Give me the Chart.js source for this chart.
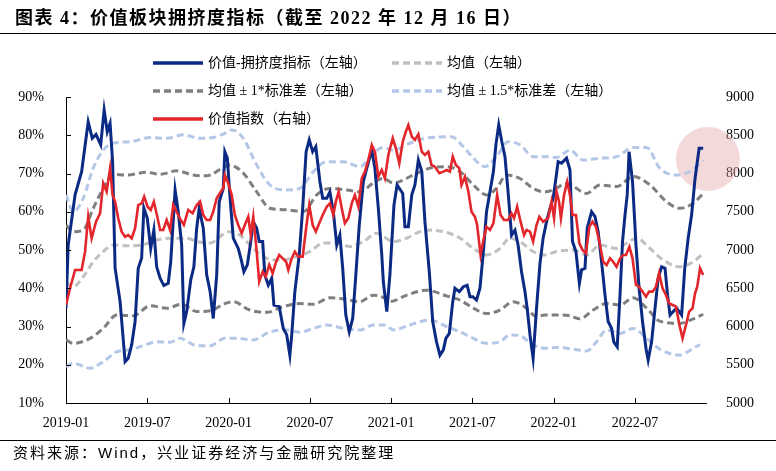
<!DOCTYPE html>
<html><head><meta charset="utf-8">
<script src="https://cdn.jsdelivr.net/npm/chart.js@4.4.0/dist/chart.umd.min.js"></script>
<style>
html,body{margin:0;padding:0;background:#fff;width:776px;height:471px;overflow:hidden;}
#wrap{position:relative;width:776px;height:471px;}
#title{position:absolute;left:15px;top:6px;font:bold 18px "Liberation Serif","Noto Sans CJK SC";letter-spacing:1.5px;color:#000;white-space:nowrap;line-height:24px}
.rule{position:absolute;left:0;width:776px;height:1px;background:#000}
#source{position:absolute;left:13px;top:443px;font:15px "Liberation Sans","Noto Sans CJK SC";color:#000;white-space:nowrap;line-height:20px;letter-spacing:2px}
canvas{position:absolute;left:0;top:0}
</style></head>
<body><div id="wrap">
<canvas id="c" width="776" height="471" style="width:776px;height:471px"></canvas>
<div id="title">图表 4：价值板块拥挤度指标（截至 2022 年 12 月 16 日）</div>
<div class="rule" style="top:33px"></div>
<div class="rule" style="top:440px"></div>
<div id="source">资料来源：Wind，兴业证券经济与金融研究院整理</div>
</div>
<script>
// x values are week numbers counted from the first week of 2019
const tickWeeks = [0, 26, 52, 78, 104, 130, 156, 182];
const tickLabels = ['2019-01','2019-07','2020-01','2020-07','2021-01','2021-07','2022-01','2022-07'];

// 价值-拥挤度指标 (%, left axis)
const crowding = [[0,34.8],[0.7,51.3],[2.9,64.4],[5.0,70.5],[7.1,83.5],[8.4,79.2],[9.6,80.2],[11.1,77.5],[12.2,86.6],[13.2,80.9],[14.1,83.1],[14.9,73.1],[15.7,45.3],[17.3,36.5],[18.9,20.8],[19.9,21.7],[21.0,25.2],[22.1,31.3],[23.1,45.2],[24.2,47.9],[24.9,61.0],[26.0,58.3],[27.1,50.4],[28.1,55.2],[29.0,45.6],[30.1,42.6],[31.3,40.7],[32.7,41.3],[33.5,46.9],[34.9,65.7],[35.9,60.0],[37.0,51.3],[37.7,30.8],[38.6,33.9],[39.9,42.2],[40.9,45.6],[41.8,55.7],[42.6,60.9],[43.9,55.7],[45.0,43.5],[46.1,39.1],[47.1,32.1],[48.2,43.5],[49.0,62.6],[50.3,66.1],[50.8,75.7],[51.6,74.0],[52.4,64.4],[53.5,53.1],[55.1,50.4],[56.2,46.9],[56.9,44.3],[58.0,46.1],[59.1,52.2],[59.9,57.4],[61.0,55.7],[61.8,52.2],[62.9,52.2],[63.6,43.5],[64.7,40.8],[65.8,42.6],[66.5,35.6],[68.2,35.2],[69.5,29.5],[70.6,27.8],[71.6,22.5],[72.2,27.8],[73.2,39.1],[74.6,48.7],[75.7,60.9],[76.8,75.7],[77.8,78.8],[78.9,75.7],[79.9,77.0],[81.2,67.9],[82.1,63.5],[83.4,63.5],[84.4,65.2],[85.5,60.0],[86.6,51.3],[87.6,53.9],[88.5,45.2],[89.5,33.0],[90.6,28.6],[91.7,32.1],[92.7,43.5],[93.8,56.5],[95.1,67.9],[96.2,71.4],[97.8,76.1],[98.8,71.4],[99.9,60.9],[101.0,48.7],[101.5,41.7],[102.6,33.9],[103.6,43.5],[104.9,61.8],[105.9,67.0],[107.7,64.8],[108.4,56.1],[109.5,56.1],[110.6,64.4],[111.6,67.0],[112.7,73.5],[113.8,70.5],[114.8,57.4],[116.2,44.3],[117.3,31.3],[118.5,26.0],[119.6,22.5],[120.7,23.9],[121.5,26.9],[122.6,28.2],[123.7,36.5],[124.4,40.0],[125.8,39.1],[127.1,40.4],[128.3,40.8],[129.2,37.8],[130.1,37.8],[131.3,36.9],[132.4,40.0],[133.5,49.6],[134.5,60.0],[135.6,65.2],[136.7,70.5],[137.5,77.5],[138.4,82.7],[139.4,78.3],[140.4,74.4],[141.4,65.2],[142.5,53.9],[143.6,55.2],[144.6,51.3],[145.7,44.3],[146.8,39.1],[147.5,34.8],[148.4,27.8],[149.4,21.7],[150.5,34.8],[151.6,46.5],[152.6,53.1],[153.7,57.4],[154.8,60.9],[155.8,63.5],[156.7,68.7],[157.4,73.1],[158.5,72.7],[160.1,74.0],[161.2,70.9],[162.0,52.2],[163.1,49.6],[164.2,41.3],[164.9,44.8],[166.0,45.2],[166.7,55.7],[168.1,60.0],[169.2,58.7],[170.2,54.8],[171.3,46.9],[172.4,38.2],[173.4,31.3],[174.5,29.5],[175.2,26.0],[176.3,24.7],[177.2,38.2],[178.0,52.2],[178.8,59.2],[179.5,64.4],[180.1,75.7],[181.2,67.9],[182.3,51.3],[183.3,40.0],[184.4,31.3],[185.5,24.3],[186.2,21.2],[187.3,26.0],[188.4,34.8],[189.4,42.6],[190.5,45.6],[191.6,45.2],[192.4,38.2],[193.2,33.0],[194.2,33.9],[195.3,34.8],[196.9,33.0],[197.9,45.2],[199.0,53.1],[200.1,59.2],[201.2,68.7],[202.5,76.6],[203.8,76.6]];

// 价值指数 (right axis)
const valueIndex = [[0,6281],[1.3,6500],[2.9,6739],[5.0,6739],[6.1,6978],[7.1,7435],[8.2,7153],[9.6,7370],[10.9,7480],[11.9,7872],[13.0,7762],[14.1,8068],[14.9,7719],[15.7,7632],[16.7,7415],[17.8,7240],[18.9,7174],[19.9,7196],[21.0,7153],[22.1,7284],[23.1,7588],[24.2,7610],[25.0,7697],[26.1,7566],[27.1,7523],[28.1,7632],[29.2,7435],[30.1,7262],[31.1,7262],[32.2,7392],[33.3,7262],[34.3,7588],[35.6,7480],[36.7,7392],[37.7,7327],[39.1,7523],[40.5,7480],[41.8,7588],[42.9,7632],[43.9,7458],[45.0,7392],[46.1,7392],[47.1,7501],[48.2,7676],[49.2,7741],[50.3,7807],[50.8,7980],[51.9,7872],[53.0,7719],[54.0,7458],[55.1,7327],[56.2,7218],[57.2,7327],[58.3,7435],[59.1,7196],[59.9,7435],[60.8,7066],[61.8,6586],[62.9,6717],[63.9,6651],[65.0,6804],[66.1,6695],[67.2,6847],[68.2,6935],[69.3,6891],[70.4,6847],[71.1,6739],[72.2,6891],[73.2,6978],[74.3,6913],[75.7,6913],[76.8,7284],[77.8,7588],[78.9,7327],[79.9,7240],[81.0,7349],[82.1,7458],[83.4,7566],[84.4,7610],[85.5,7458],[86.3,7632],[87.2,7762],[88.2,7545],[89.2,7349],[90.3,7415],[91.4,7610],[92.4,7719],[93.5,7566],[94.6,7937],[95.6,8024],[96.7,8177],[97.8,8373],[98.8,8285],[99.9,7958],[101.0,8046],[102.0,7937],[103.1,8242],[104.5,8460],[105.5,8329],[106.6,8133],[107.7,8416],[108.7,8547],[109.5,8634],[110.6,8481],[111.6,8438],[112.7,8512],[113.8,8285],[114.8,8242],[115.9,8285],[116.9,8111],[118.0,8089],[119.4,8003],[120.7,8024],[121.7,8046],[122.8,8024],[123.7,8220],[124.7,8111],[125.8,8068],[126.5,7850],[127.6,7958],[128.7,7762],[129.7,7501],[130.8,7435],[131.5,7327],[132.6,6935],[133.4,7109],[134.5,7305],[135.6,7262],[136.7,7349],[137.9,7719],[139.0,7458],[140.1,7392],[141.4,7392],[142.5,7480],[143.3,7415],[144.3,7566],[145.4,7370],[146.5,7196],[147.3,7262],[148.4,7240],[149.4,7109],[150.5,7327],[151.4,7435],[152.6,7370],[154.2,7415],[155.3,7632],[156.1,7415],[156.9,7762],[157.7,7632],[158.3,7415],[159.3,7719],[160.3,7893],[161.2,7719],[162.0,7458],[163.1,7458],[164.2,7088],[165.2,7000],[166.3,6957],[167.4,7305],[168.4,7370],[169.5,7305],[170.6,7109],[171.8,6847],[172.9,6804],[174.0,6891],[175.0,6847],[176.1,6782],[177.2,6891],[178.2,6935],[179.1,6935],[180.2,7043],[181.2,6891],[182.3,6543],[183.3,6521],[184.4,6456],[185.5,6390],[186.5,6456],[187.6,6456],[188.7,6521],[189.7,6695],[190.8,6500],[191.9,6412],[192.9,6304],[194.0,6281],[195.1,6259],[196.2,6020],[197.2,5846],[198.3,6020],[199.3,6194],[200.4,6238],[201.2,6434],[201.9,6521],[202.8,6761],[203.8,6674]];

// 均值 (%)
const meanLine = [[0,41.7],[2.3,40.4],[5.5,43.0],[8.7,46.9],[11.9,49.6],[15.1,51.3],[19.4,51.1],[24.2,51.3],[29.0,52.6],[33.8,53.1],[38.6,53.1],[41.8,52.2],[46.1,51.8],[49.2,53.5],[51.9,54.8],[55.6,53.9],[59.9,50.4],[64.2,47.8],[68.4,47.4],[73.8,48.2],[78.0,49.6],[82.3,51.8],[86.6,51.8],[90.8,50.9],[95.1,52.2],[99.4,54.4],[104.7,52.2],[109.0,53.1],[113.2,54.8],[116.4,55.2],[121.7,54.6],[126.0,53.1],[130.3,50.4],[134.5,48.7],[138.8,50.4],[142.0,53.1],[145.2,52.2],[149.4,49.6],[153.2,48.7],[156.9,49.6],[162.2,50.0],[166.5,48.7],[170.8,51.3],[176.1,50.4],[179.3,51.8],[182.5,53.1],[186.8,50.4],[191.0,47.4],[196.3,45.6],[200.6,46.9],[203.8,49.1]];
// 均值 ± 1*标准差 (%)
const plusOneStd = [[0,56.5],[2.3,54.8],[5.5,55.2],[8.7,60.9],[11.9,66.1],[15.1,69.8],[19.4,69.6],[25.8,70.3],[30.1,69.8],[35.4,70.7],[40.7,69.6],[45.0,69.4],[50.8,71.8],[52.4,72.2],[56.7,70.1],[61.0,65.2],[65.2,60.9],[70.6,60.5],[75.9,60.0],[80.2,64.4],[84.4,66.1],[89.8,65.7],[94.0,65.2],[98.3,67.5],[101.5,68.7],[104.7,67.5],[111.1,69.6],[116.4,71.4],[121.7,71.8],[126.0,70.5],[130.3,67.0],[134.5,64.4],[137.7,66.1],[140.9,69.6],[145.2,68.7],[149.4,66.1],[153.2,65.2],[155.8,65.7],[160.1,67.4],[166.5,64.8],[170.8,67.0],[176.1,66.6],[181.4,69.2],[186.8,67.0],[192.1,62.6],[196.3,60.9],[200.6,62.2],[203.8,64.8]];
const minusOneStd = [[0,26.5],[2.3,25.6],[7.7,26.9],[11.9,29.5],[16.2,33.0],[21.5,32.8],[26.9,35.4],[32.2,34.8],[37.0,35.8],[41.8,33.9],[46.1,34.1],[50.8,36.0],[53.5,36.5],[58.8,34.3],[64.2,33.7],[69.5,35.2],[74.8,36.0],[79.1,35.8],[84.4,37.5],[88.7,37.2],[94.0,36.5],[98.3,38.2],[102.0,37.4],[103.6,36.5],[109.0,38.2],[115.3,39.5],[121.7,38.0],[126.0,36.9],[130.3,34.8],[134.5,33.4],[138.8,34.3],[143.0,36.5],[147.3,34.8],[150.5,32.6],[153.2,33.0],[156.9,33.0],[161.2,32.8],[164.4,32.0],[168.6,34.3],[172.9,36.0],[177.2,35.6],[181.4,37.5],[185.7,34.8],[189.9,31.4],[196.3,30.8],[200.6,32.0],[203.8,33.2]];
// 均值 ± 1.5*标准差 (%)
const plusOneHalfStd = [[0,64.4],[2.3,60.0],[5.5,63.5],[8.7,71.4],[11.9,76.1],[15.1,77.9],[20.5,78.3],[26.9,79.4],[32.2,79.2],[37.5,80.1],[42.9,79.2],[47.1,79.4],[50.8,80.5],[53.0,81.4],[56.7,79.2],[61.0,72.2],[65.2,67.0],[70.6,65.7],[74.8,66.1],[79.1,70.5],[83.4,73.1],[88.7,73.1],[94.0,71.8],[98.3,75.3],[101.5,76.8],[104.7,76.1],[110.0,77.9],[116.4,79.4],[123.3,79.6],[127.1,77.0],[130.3,74.0],[134.0,71.8],[137.7,74.4],[141.4,78.3],[145.2,77.5],[149.4,74.4],[153.2,74.4],[156.9,74.2],[161.2,76.1],[165.4,73.5],[170.8,74.0],[176.1,74.4],[181.4,76.8],[185.7,76.8],[189.9,71.4],[195.3,69.6],[199.5,70.5],[203.8,73.5]];
const minusOneHalfStd = [[0,19.5],[2.3,20.4],[7.7,19.1],[11.9,20.8],[16.2,23.4],[20.5,23.9],[24.7,25.0],[29.0,26.0],[33.3,25.9],[36.4,26.9],[41.8,25.0],[46.1,25.0],[50.8,26.9],[54.6,26.9],[59.9,26.5],[65.2,28.6],[70.6,29.1],[74.8,28.5],[79.1,29.5],[83.4,30.4],[88.7,29.5],[94.0,29.1],[98.3,30.4],[102.0,30.4],[104.7,29.1],[110.0,30.4],[116.4,31.7],[121.7,30.0],[126.0,28.6],[130.3,26.9],[134.5,25.6],[138.8,26.0],[142.0,27.8],[145.2,27.6],[149.4,25.2],[153.2,24.3],[156.9,24.5],[162.2,24.1],[166.5,23.6],[169.7,26.0],[172.9,29.1],[177.2,28.2],[181.4,29.5],[185.7,26.9],[189.9,24.1],[196.3,22.5],[200.6,24.3],[202.8,25.3]];

// highlighted latest reading (week, %)
const highlightPoint = [205.3, 73.8];

const toXY = arr => arr.map(([x, y]) => ({x, y}));
const band = (label, data, color) => ({label, data: toXY(data), yAxisID: 'y', borderColor: color, borderWidth: 3,
  borderDash: [7, 4], pointRadius: 0, tension: 0.4, cubicInterpolationMode: 'monotone', fill: false});

const datasets = [
  {label: '价值指数（右轴）', data: toXY(valueIndex), yAxisID: 'y2', borderColor: '#e3262b', borderWidth: 2.6, pointRadius: 0, tension: 0},
  {label: '价值-拥挤度指标（左轴）', data: toXY(crowding), yAxisID: 'y', borderColor: '#0b2a84', borderWidth: 3, pointRadius: 0, tension: 0},
  band('均值（左轴）', meanLine, '#c0c0c0'),
  band('均值 ± 1*标准差（左轴）', plusOneStd, '#7f7f7f'),
  band('均值 ± 1*标准差（左轴）', minusOneStd, '#7f7f7f'),
  band('均值 ± 1.5*标准差（左轴）', plusOneHalfStd, '#b4c7e7'),
  band('均值 ± 1.5*标准差（左轴）', minusOneHalfStd, '#b4c7e7')
];

const legendSlots = [
  {ds: 1, x: 153, y: 63}, {ds: 2, x: 392, y: 63},
  {ds: 3, x: 153, y: 91}, {ds: 5, x: 392, y: 91},
  {ds: 0, x: 153, y: 119}
];

const decor = {
  id: 'decor',
  beforeDatasetsDraw(chart) {
    const {ctx, scales: {x, y}} = chart;
    ctx.save();
    ctx.beginPath();
    ctx.arc(x.getPixelForValue(highlightPoint[0]), y.getPixelForValue(highlightPoint[1]), 32, 0, Math.PI * 2);
    ctx.fillStyle = 'rgba(228,160,165,0.4)';
    ctx.fill();
    ctx.restore();
  },
  afterDraw(chart) {
    const {ctx, chartArea: a, scales: {x, y}} = chart;
    ctx.save();
    ctx.strokeStyle = '#000';
    ctx.lineWidth = 1;
    ctx.beginPath();
    y.ticks.forEach(t => { const py = Math.round(y.getPixelForValue(t.value)) + 0.5; ctx.moveTo(a.left, py); ctx.lineTo(a.left + 5, py); });
    x.ticks.forEach((t, i) => { if (i === 0) return; const px = Math.round(x.getPixelForValue(t.value)) + 0.5; ctx.moveTo(px, a.bottom); ctx.lineTo(px, a.bottom - 5); });
    ctx.stroke();
    // legend
    ctx.font = '14px "Liberation Serif", "Noto Sans CJK SC"';
    ctx.textBaseline = 'middle';
    ctx.fillStyle = '#000';
    legendSlots.forEach(s => {
      const d = chart.data.datasets[s.ds];
      ctx.beginPath();
      ctx.strokeStyle = d.borderColor;
      ctx.lineWidth = 3.5;
      ctx.setLineDash(d.borderDash || []);
      ctx.moveTo(s.x, s.y); ctx.lineTo(s.x + 50, s.y);
      ctx.stroke();
      ctx.setLineDash([]);
      ctx.fillText(d.label, s.x + 55, s.y);
    });
    ctx.restore();
  }
};

const tickFont = {family: '"Liberation Serif", "Times New Roman", serif', size: 14};
new Chart(document.getElementById('c'), {
  type: 'line',
  data: {datasets},
  plugins: [decor],
  options: {
    responsive: false, animation: false, devicePixelRatio: 1,
    layout: {padding: {top: 97, left: 0, right: 0, bottom: 0}},
    plugins: {legend: {display: false}, tooltip: {enabled: false}},
    scales: {
      x: {type: 'linear', min: 0, max: 204.7,
        afterBuildTicks: s => { s.ticks = tickWeeks.map(v => ({value: v})); },
        afterFit: s => { s.height = 68; },
        grid: {display: false}, border: {display: true, color: '#000', width: 1},
        ticks: {callback: (v, i) => tickLabels[i], font: tickFont, color: '#000', padding: 4, maxRotation: 0, autoSkip: false}},
      y: {position: 'left', min: 10, max: 90,
        afterFit: s => { s.width = 66; },
        grid: {display: false}, border: {display: true, color: '#000', width: 1},
        ticks: {stepSize: 10, callback: v => v + '%', font: tickFont, color: '#000', padding: 14}},
      y2: {position: 'right', min: 5000, max: 9000,
        afterFit: s => { s.width = 70; },
        grid: {display: false}, border: {display: false},
        ticks: {stepSize: 500, callback: v => String(v), font: tickFont, color: '#000', padding: 12}}
    }
  }
});
</script>
</body></html>
